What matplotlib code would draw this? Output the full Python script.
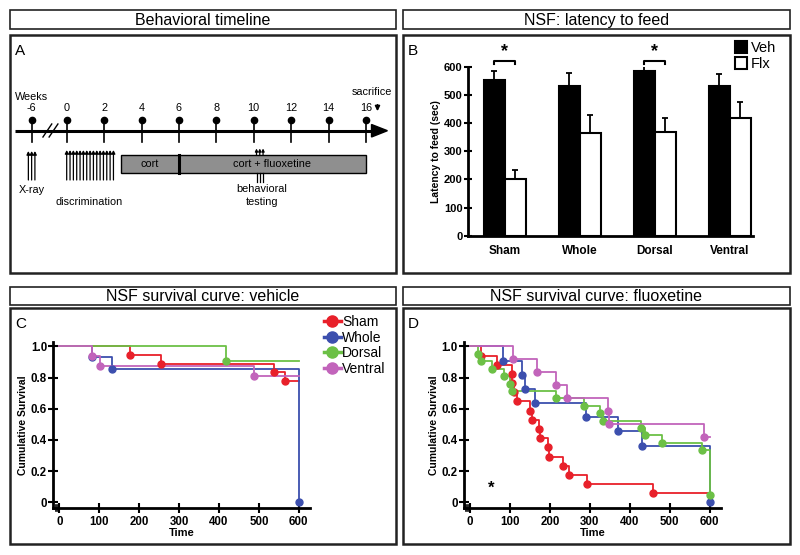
import matplotlib
matplotlib.use('Agg')
import matplotlib.pyplot as plt
from matplotlib.patches import Rectangle, Polygon
from matplotlib.lines import Line2D
import numpy as np

plt.rcParams['font.family'] = ['Liberation Sans', 'DejaVu Sans']

# ---- panel A: timeline ----
weeks = [-6, 0, 2, 4, 6, 8, 10, 12, 14, 16]
xray_sessions = 3
discrimination_sessions = 15
testing_sessions = 3
cort_start, flx_start, flx_end = 2.9, 6.0, 16.0

# ---- panel B: latency to feed ----
groups = ['Sham', 'Whole', 'Dorsal', 'Ventral']
veh_mean = [553, 531, 586, 531]
veh_sem = [32, 48, 16, 43]
flx_mean = [200, 366, 368, 419]
flx_sem = [33, 62, 49, 57]
sig_groups = ['Sham', 'Dorsal']

# ---- panels C/D: survival (event time, survival after event) ----
veh_sham_t = [176, 254, 537, 566]
veh_sham_s = [0.944, 0.889, 0.833, 0.778]
veh_whole_t = [81, 131, 600]
veh_whole_s = [0.929, 0.857, 0.0]
veh_dorsal_t = [418]
veh_dorsal_s = [0.909]
veh_ventral_t = [81, 102, 487]
veh_ventral_s = [0.938, 0.875, 0.813]

flx_sham_t = [27, 67, 104, 106, 111, 117, 150, 156, 172, 175, 194, 197, 233, 247, 292, 457]
flx_sham_s = [0.941, 0.882, 0.824, 0.765, 0.706, 0.647, 0.588, 0.529, 0.471, 0.412,
              0.353, 0.294, 0.235, 0.176, 0.118, 0.059]
flx_whole_t = [83, 129, 137, 162, 289, 371, 430, 600]
flx_whole_s = [0.909, 0.818, 0.727, 0.636, 0.545, 0.455, 0.364, 0.0]
flx_dorsal_t = [20, 28, 55, 86, 100, 105, 215, 284, 326, 334, 428, 437, 480, 580, 600]
flx_dorsal_s = [0.952, 0.905, 0.857, 0.810, 0.762, 0.714, 0.667, 0.619, 0.571, 0.524,
                0.476, 0.429, 0.381, 0.333, 0.048]
flx_ventral_t = [108, 168, 215, 242, 345, 348, 585]
flx_ventral_s = [0.917, 0.833, 0.750, 0.667, 0.583, 0.500, 0.417]

surv_names = ['Sham', 'Whole', 'Dorsal', 'Ventral']
surv_colors = ['#e8202a', '#3c4fae', '#6cc046', '#c264bb']

W, H = 800, 555
fig = plt.figure(figsize=(8, 5.55), dpi=100)


def fax(x0, y0, x1, y1):
    # pixel box (top-left origin) -> figure fraction rect
    return [x0 / W, 1 - y1 / H, (x1 - x0) / W, (y1 - y0) / H]


# background with frames and titles
bg = fig.add_axes([0, 0, 1, 1], zorder=-5)
bg.set_xlim(0, W)
bg.set_ylim(H, 0)
bg.axis('off')
for row, (ty0, ty1, cy0, cy1) in enumerate([(10, 29.3, 35, 273), (287.3, 305, 308.3, 544)]):
    titles = [('Behavioral timeline', 'A'), ('NSF: latency to feed', 'B')] if row == 0 else \
        [('NSF survival curve: vehicle', 'C'), ('NSF survival curve: fluoxetine', 'D')]
    for (title, letter), (x0, x1) in zip(titles, [(10, 396), (403, 790)]):
        bg.add_patch(Rectangle((x0, ty0), x1 - x0, ty1 - ty0, fill=False, lw=1.2, ec='#222222'))
        bg.add_patch(Rectangle((x0, cy0), x1 - x0, cy1 - cy0, fill=False, lw=1.8, ec='#222222'))
        bg.text((x0 + x1) / 2, (ty0 + ty1) / 2 + 0.5, title, ha='center', va='center', fontsize=11.5)
        bg.text(x0 + 5, cy0 + 16, letter, ha='left', va='center', fontsize=11)

# ---------------- panel A ----------------
axA = fig.add_axes(fax(10, 35, 396, 273), zorder=1)
axA.axis('off')
px0, pscale = 66.7, 18.7
axA.set_xlim((10 - px0) / pscale, (396 - px0) / pscale)
axA.set_ylim(273, 35)


def wpos(w):
    return w if w >= 0 else -1.87


yl = 130.7
axA.plot([-2.76, 16.5], [yl, yl], color='k', lw=2.2, solid_capstyle='butt')
axA.add_patch(Polygon([[16.3, 124.5], [17.15, yl], [16.3, 137]], closed=True, color='k'))
for w in weeks:
    p = wpos(w)
    axA.plot([p, p], [120, 141.7], color='k', lw=1.2)
    axA.plot(p, 120, 'o', color='k', ms=4.5)
    axA.text(p, 108.3, str(w), ha='center', va='center', fontsize=7.8)
for dx in [0, 0.33]:
    axA.plot([-1.27 + dx, -0.8 + dx], [137, 124], color='k', lw=1.0)
axA.text(-1.87, 96.5, 'Weeks', ha='center', va='center', fontsize=7.8)
axA.text(16.3, 91.7, 'sacrifice', ha='center', va='center', fontsize=7.8)
axA.annotate('', xy=(16.62, 114), xytext=(16.62, 102),
             arrowprops=dict(arrowstyle='-|>', color='k', lw=1.2, mutation_scale=7))


def up_arrows(xs, y0, y1, ms=5):
    for x in xs:
        axA.annotate('', xy=(x, y1), xytext=(x, y0),
                     arrowprops=dict(arrowstyle='-|>', color='k', lw=0.9, mutation_scale=ms,
                                     shrinkA=0, shrinkB=0))


up_arrows(np.linspace(-2.05, -1.7, xray_sessions), 180, 151)
axA.text(-1.87, 190, 'X-ray', ha='center', va='center', fontsize=7.8)
up_arrows(np.linspace(0, 2.5, discrimination_sessions), 180, 150)
axA.text(1.22, 201.7, 'discrimination', ha='center', va='center', fontsize=7.8)

axA.add_patch(Rectangle((cort_start, 155), flx_start - cort_start, 18.3, fc='#8f8f8f', ec='k', lw=1))
axA.add_patch(Rectangle((flx_start, 155), flx_end - flx_start, 18.3, fc='#8f8f8f', ec='k', lw=1))
axA.plot([flx_start, flx_start], [155, 173.3], color='k', lw=2.2)
axA.text((cort_start + flx_start) / 2, 164, 'cort', ha='center', va='center', fontsize=7.8)
axA.text((flx_start + flx_end) / 2, 164, 'cort + fluoxetine', ha='center', va='center', fontsize=7.8)
tx = np.linspace(10.15, 10.5, testing_sessions)
up_arrows(tx, 155, 148.5, ms=4)
for x in tx:
    axA.plot([x, x], [173.3, 181.5], color='k', lw=0.9)
axA.text(10.45, 189, 'behavioral', ha='center', va='center', fontsize=7.8)
axA.text(10.45, 201.7, 'testing', ha='center', va='center', fontsize=7.8)

# ---------------- panel B ----------------
axB = fig.add_axes(fax(468, 66.7, 753, 235.7))
x = np.arange(len(groups))
bw = 0.28
axB.bar(x - bw / 2, veh_mean, bw, color='k', edgecolor='k', lw=1.5, label='Veh', zorder=3)
axB.bar(x + bw / 2, flx_mean, bw, color='white', edgecolor='k', lw=1.5, label='Flx', zorder=3)
axB.errorbar(x - bw / 2, veh_mean, yerr=[np.zeros(4), veh_sem], fmt='none', ecolor='k',
             elinewidth=1.3, capsize=2.5, capthick=1.3, zorder=2)
axB.errorbar(x + bw / 2, flx_mean, yerr=[np.zeros(4), flx_sem], fmt='none', ecolor='k',
             elinewidth=1.3, capsize=2.5, capthick=1.3, zorder=2)
for g in sig_groups:
    i = groups.index(g)
    axB.plot([i - bw / 2, i - bw / 2, i + bw / 2, i + bw / 2], [608, 622, 622, 608],
             color='k', lw=1.5, clip_on=False)
    axB.text(i, 624, '*', ha='center', va='bottom', fontsize=13, fontweight='bold')
axB.set_xlim(-0.49, 3.31)
axB.set_ylim(0, 600)
axB.set_xticks(x)
axB.set_xticklabels(groups, fontsize=8.5, fontweight='bold')
axB.set_yticks(range(0, 601, 100))
axB.tick_params(axis='x', length=0, pad=7)
axB.tick_params(axis='y', direction='inout', length=6, width=1.5, labelsize=8, pad=1)
for lab in axB.get_yticklabels():
    lab.set_fontweight('bold')
axB.set_ylabel('Latency to feed (sec)', fontsize=7.5, fontweight='bold', labelpad=2)
for s in ['top', 'right']:
    axB.spines[s].set_visible(False)
for s in ['left', 'bottom']:
    axB.spines[s].set_linewidth(2)
axB.legend(loc='upper left', bbox_to_anchor=(735 / W, 1 - 41 / H), bbox_transform=fig.transFigure,
           frameon=False, fontsize=10.5, handlelength=0.8, handleheight=0.9,
           handletextpad=0.3, labelspacing=0.15, borderpad=0, borderaxespad=0)


# ---------------- panels C/D ----------------
def survival(ax, series):
    for (t, s), c in zip(series, surv_colors):
        xs = [0] + list(t)
        ys = [1.0] + list(s)
        if xs[-1] < 600:
            xs.append(600)
            ys.append(ys[-1])
        ax.plot(xs, ys, drawstyle='steps-post', color=c, lw=1.3, zorder=3)
        ax.plot(t, s, 'o', color=c, ms=5, zorder=4, clip_on=False)
    ax.set_xlim(-15, 628)
    ax.set_ylim(-0.038, 1.03)
    ax.set_xticks(range(0, 601, 100))
    ax.set_yticks([0, 0.2, 0.4, 0.6, 0.8, 1.0])
    ax.set_yticklabels(['0', '0.2', '0.4', '0.6', '0.8', '1.0'])
    ax.tick_params(direction='inout', length=7, width=1.5, labelsize=8.3)
    ax.tick_params(axis='x', pad=2)
    ax.tick_params(axis='y', pad=1)
    for lab in ax.get_xticklabels() + ax.get_yticklabels():
        lab.set_fontweight('bold')
    for sp in ['top', 'right']:
        ax.spines[sp].set_visible(False)
    for sp in ['left', 'bottom']:
        ax.spines[sp].set_linewidth(2)
    # axis break marks near origin
    for xb in [-9, -4]:
        ax.plot([xb, xb], [-0.055, -0.02], color='k', lw=1.2, clip_on=False)
    ax.set_xlabel('Time', fontsize=8, fontweight='bold', labelpad=0)
    ax.set_ylabel('Cumulative Survival', fontsize=7.5, fontweight='bold', labelpad=2)


axC = fig.add_axes(fax(53.3, 341.7, 310, 508.3))
survival(axC, [(veh_sham_t, veh_sham_s), (veh_whole_t, veh_whole_s),
               (veh_dorsal_t, veh_dorsal_s), (veh_ventral_t, veh_ventral_s)])
handles = [Line2D([0], [0], color=c, lw=2.5, marker='o', ms=8) for c in surv_colors]
axC.legend(handles, surv_names, loc='upper left', bbox_to_anchor=(324 / W, 1 - 315 / H),
           bbox_transform=fig.transFigure, frameon=False, fontsize=10, handlelength=1.2,
           handletextpad=0.1, labelspacing=0.12, borderpad=0, borderaxespad=0)

axD = fig.add_axes(fax(464, 341.7, 721, 508.3))
survival(axD, [(flx_sham_t, flx_sham_s), (flx_whole_t, flx_whole_s),
               (flx_dorsal_t, flx_dorsal_s), (flx_ventral_t, flx_ventral_s)])
axD.text(52, 0.09, '*', ha='center', va='center', fontsize=12, fontweight='bold')

fig.savefig('out.png', dpi=100)
